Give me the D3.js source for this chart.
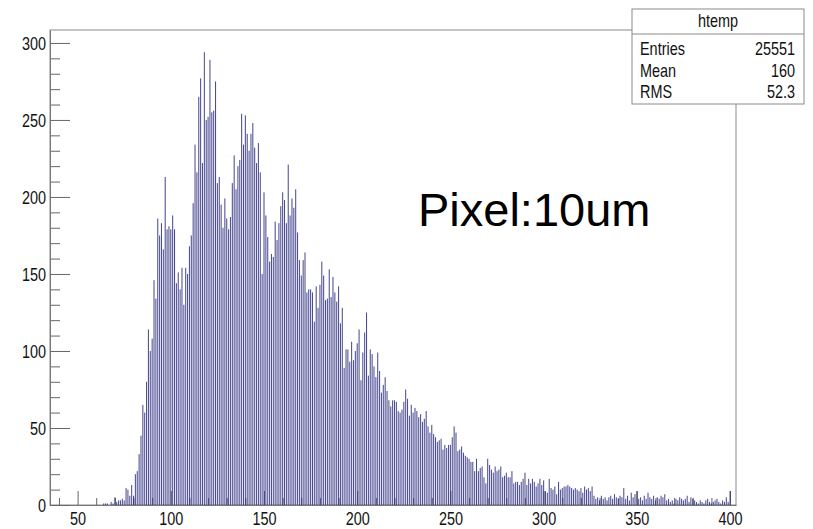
<!DOCTYPE html>
<html>
<head>
<meta charset="utf-8">
<script src="https://cdn.jsdelivr.net/npm/d3@7"></script>
<style>
  body { margin: 0; background: #fff; }
  text { font-family: "Liberation Sans", Arial, sans-serif; }
</style>
</head>
<body>
<svg id="chart" width="813" height="529"></svg>
<script>
// histogram "htemp": one count per integer bin, starting at binStart
var binStart = 40;
var counts = [
    0,0,0,0,0,0,0,0,0,0,
    0,0,0,0,0,0,0,0,0,0,
    0,0,0,0,1,1,1,0,2,1,
    5,2,3,3,4,3,11,10,6,13,
    6,20,22,33,45,65,60,80,114,100,
    108,146,134,186,175,183,166,213,179,181,
    179,188,179,144,151,140,154,130,154,150,
    168,175,196,234,216,265,277,222,294,250,
    252,289,255,256,275,209,213,195,180,199,
    186,179,187,209,227,205,220,224,254,234,
    253,241,230,241,248,232,222,235,216,150,
    203,188,174,158,163,161,184,172,183,194,
    203,198,183,221,188,199,193,205,177,159,
    149,159,164,138,140,140,138,119,142,128,
    143,158,149,133,134,153,135,148,138,132,
    142,118,128,89,101,101,93,106,94,100,
    105,114,81,99,112,125,84,101,98,90,
    83,99,87,73,78,83,74,68,64,68,
    68,67,61,60,62,67,75,69,58,65,
    60,63,61,57,59,54,56,61,51,47,
    52,46,44,41,42,43,36,39,37,39,
    39,44,51,47,35,36,38,34,32,31,
    30,28,28,22,30,22,24,25,18,14,
    30,26,23,21,25,22,23,25,18,19,
    21,18,18,22,14,15,15,13,15,17,
    21,13,17,14,17,15,12,14,17,13,
    16,9,8,17,11,10,12,7,15,10,
    11,12,12,13,12,11,10,11,10,9,
    11,8,12,10,11,9,12,6,4,5,
    3,6,4,5,3,5,6,4,7,5,
    4,6,5,11,4,6,3,8,5,7,
    9,4,5,3,6,4,8,5,4,6,
    3,5,4,6,5,7,3,4,2,3,
    1,4,3,5,4,3,4,6,2,5,
    4,3,2,1,3,2,1,3,4,2,
    1,2,3,4,2,1,3,2,5,2,
    9
];

var xTicks = [50, 100, 150, 200, 250, 300, 350, 400];
var yTicks = [0, 50, 100, 150, 200, 250, 300];
var statsTitle = "htemp";
var statsNames = ["Entries", "Mean", "RMS"];
var statsValues = ["25551", "160", "52.3"];
var note = "Pixel:10um";

var svg = d3.select("#chart");
var frame = {left: 50, right: 736, top: 30, bottom: 505};
var squash = 0.78; // the root canvas text is drawn narrow

var x = d3.scaleLinear().domain([35.2, 403.2]).range([frame.left, frame.right]);
var y = d3.scaleLinear().domain([0, 308.4]).range([frame.bottom, frame.top]);

var bins = counts.map(function(c, i) { return {v: binStart + i, n: c}; });

// frame
svg.append("rect")
    .attr("x", frame.left).attr("y", frame.top)
    .attr("width", frame.right - frame.left)
    .attr("height", frame.bottom - frame.top)
    .attr("fill", "none")
    .attr("stroke", "#8a8a8a")
    .attr("stroke-width", 1);

// x axis ticks (minor every 10)
var xMinor = d3.range(40, 401, 10).filter(function(d) { return d % 50; });
svg.append("g")
    .attr("transform", "translate(0," + frame.bottom + ")")
    .call(d3.axisBottom(x).tickValues(xMinor).tickSize(-7).tickFormat(""))
    .call(function(g) { g.select(".domain").remove(); });

var gx = svg.append("g")
    .attr("class", "xaxis")
    .attr("transform", "translate(0," + frame.bottom + ")")
    .call(d3.axisBottom(x).tickValues(xTicks).tickSize(-14).tickPadding(7).tickSizeOuter(0));

// bars
svg.append("g").selectAll("rect")
    .data(bins.filter(function(d) { return d.n > 0; }))
    .enter().append("rect")
    .attr("x", function(d) { return x(d.v - 0.28); })
    .attr("width", function(d) { return x(d.v + 0.28) - x(d.v - 0.28); })
    .attr("y", function(d) { return y(d.n); })
    .attr("height", function(d) { return y(0) - y(d.n); })
    .attr("fill", "#24247c")
    .attr("fill-opacity", 0.82);

// y axis
var yMinor = d3.range(0, 301, 10).filter(function(d) { return d % 50; });
svg.append("g")
    .attr("transform", "translate(" + frame.left + ",0)")
    .call(d3.axisLeft(y).tickValues(yMinor).tickSize(-10).tickFormat(""))
    .call(function(g) { g.select(".domain").remove(); });

var gy = svg.append("g")
    .attr("class", "yaxis")
    .attr("transform", "translate(" + frame.left + ",0)")
    .call(d3.axisLeft(y).tickValues(yTicks).tickSize(-20).tickPadding(5).tickSizeOuter(0));

svg.selectAll(".xaxis, .yaxis").selectAll(".domain").attr("stroke", "#777");
svg.selectAll("g line").attr("stroke", "#666");

gx.selectAll("text")
    .attr("font-size", 18.5)
    .attr("fill", "#111")
    .attr("transform", "scale(" + squash + ",1)");
gy.selectAll("text")
    .attr("font-size", 18.5)
    .attr("fill", "#111")
    .attr("x", -4 / squash)
    .attr("dy", "0.36em")
    .attr("transform", "scale(" + squash + ",1)");

// stats box
var box = {x: 632, y: 9, w: 172, h: 95, head: 25};
var sb = svg.append("g");
sb.append("rect")
    .attr("x", box.x).attr("y", box.y).attr("width", box.w).attr("height", box.h)
    .attr("fill", "#fff").attr("stroke", "#8a8a8a");
sb.append("line")
    .attr("x1", box.x).attr("x2", box.x + box.w)
    .attr("y1", box.y + box.head).attr("y2", box.y + box.head)
    .attr("stroke", "#8a8a8a");
sb.append("text")
    .attr("transform", "translate(" + (box.x + box.w / 2) + ",27) scale(" + squash + ",1)")
    .attr("text-anchor", "middle")
    .attr("font-size", 18.5)
    .attr("fill", "#111")
    .text(statsTitle);
statsNames.forEach(function(name, i) {
    var by = 55 + i * 21.5;
    sb.append("text")
        .attr("transform", "translate(" + (box.x + 8) + "," + by + ") scale(" + squash + ",1)")
        .attr("font-size", 18.5)
        .attr("fill", "#111")
        .text(name);
    sb.append("text")
        .attr("transform", "translate(" + (box.x + box.w - 9) + "," + by + ") scale(" + squash + ",1)")
        .attr("text-anchor", "end")
        .attr("font-size", 18.5)
        .attr("fill", "#111")
        .text(statsValues[i]);
});

// annotation
svg.append("text")
    .attr("x", 418).attr("y", 226)
    .attr("font-size", 47)
    .attr("fill", "#000")
    .text(note);
</script>
</body>
</html>
